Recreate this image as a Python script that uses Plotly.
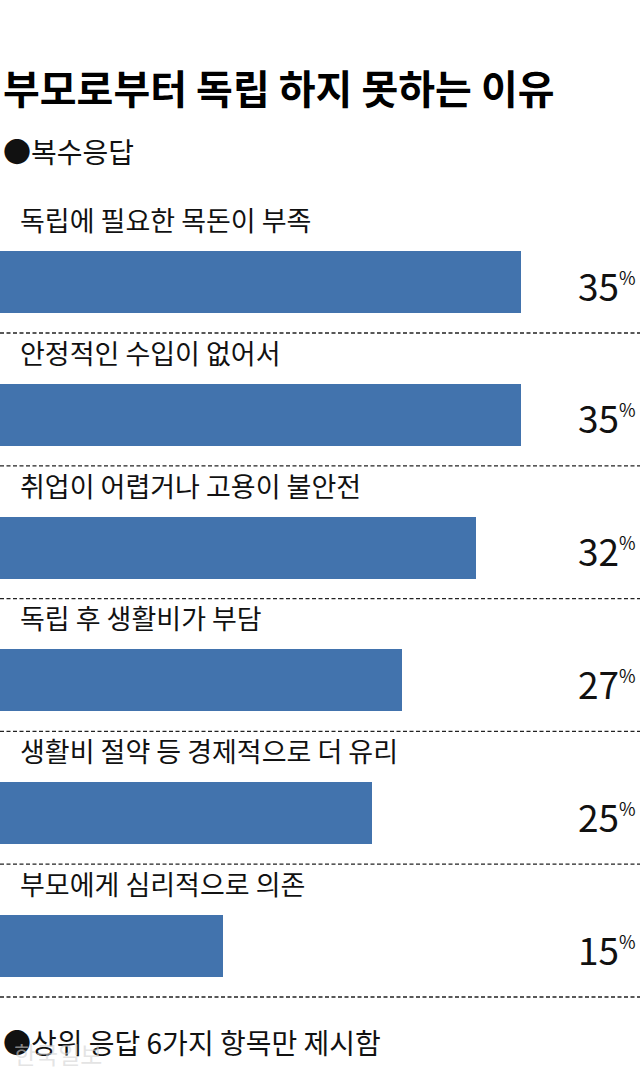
import plotly.graph_objects as go

# data
categories = ['독립에 필요한 목돈이 부족', '안정적인 수입이 없어서', '취업이 어렵거나 고용이 불안전',
              '독립 후 생활비가 부담', '생활비 절약 등 경제적으로 더 유리', '부모에게 심리적으로 의존']
values = [35, 35, 32, 27, 25, 15]

title = '부모로부터 독립 하지 못하는 이유'
subtitle = '●복수응답'
footnote = '●상위 응답 6가지 항목만 제시함'

FONT = 'Noto Sans CJK KR'
W, H = 640, 1076
ROW = 132.8      # px per row
FIRST = 282      # px centre of first bar

idx = list(range(len(categories)))

fig = go.Figure()
fig.add_trace(go.Bar(x=values, y=idx, orientation='h', width=62 / ROW,
                     marker=dict(color='#4273ad', line=dict(width=0)),
                     hoverinfo='skip', showlegend=False))

# category labels above each bar, percent labels right, dashed separators
for i, (c, v) in enumerate(zip(categories, values)):
    fig.add_annotation(x=0.028, xref='paper', y=i - 0.47, yref='y', text=c,
                       showarrow=False, xanchor='left', yanchor='middle',
                       font=dict(family=FONT, size=27, color='#111'))
    fig.add_annotation(x=0.997, xref='paper', y=i + 0.02, yref='y',
                       text=f"{v}<sup><span style='font-size:18px'>%</span></sup>",
                       showarrow=False, xanchor='right', yanchor='middle',
                       font=dict(family=FONT, size=37, color='#111'))
    fig.add_shape(type='line', xref='paper', x0=0, x1=1, yref='y',
                  y0=i + 0.384, y1=i + 0.384,
                  line=dict(color='#222', width=1.3, dash='4px,2.5px'))

fig.add_annotation(x=0.002, xref='paper', y=1 - 87 / H, yref='paper', text=f'<b>{title}</b>',
                   showarrow=False, xanchor='left', yanchor='middle',
                   font=dict(family=FONT, size=40, color='#000'))
fig.add_annotation(x=0.002, xref='paper', y=1 - 151 / H, yref='paper', text=subtitle,
                   showarrow=False, xanchor='left', yanchor='middle',
                   font=dict(family=FONT, size=28, color='#111'))
fig.add_annotation(x=0.002, xref='paper', y=1 - 1042 / H, yref='paper', text=footnote,
                   showarrow=False, xanchor='left', yanchor='middle',
                   font=dict(family=FONT, size=28, color='#111'))
# faint watermark
fig.add_annotation(x=0.018, xref='paper', y=1 - 1053 / H, yref='paper', text='한국일보',
                   showarrow=False, xanchor='left', yanchor='middle',
                   font=dict(family=FONT, size=24, color='rgba(210,210,210,0.6)'))

x_max = 35 * W / 521
fig.update_xaxes(range=[0, x_max], visible=False, fixedrange=True)
fig.update_yaxes(range=[(H - FIRST) / ROW, -FIRST / ROW], visible=False, fixedrange=True)
fig.update_layout(width=W, height=H, autosize=False,
                  margin=dict(l=0, r=0, t=0, b=0, pad=0),
                  paper_bgcolor='white', plot_bgcolor='white', bargap=0)

# drop the browser's default body margin so the figure sits at the top-left corner
fig.write_html('out.html', config={'displayModeBar': False},
               post_script="document.body.style.margin='0';")
